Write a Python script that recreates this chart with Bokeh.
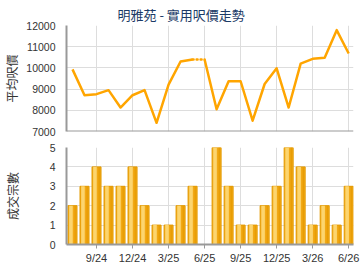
from bokeh.plotting import figure
from bokeh.layouts import column
from bokeh.models import Range1d, FixedTicker, Span, ColumnDataSource
from bokeh.embed import file_html
from bokeh.resources import INLINE

# ---- data ----
months = list(range(24))  # 7/24 .. 6/26
prices = [9930, 8710, 8760, 8950, 8130, 8710, 8950, 7410, 9210, 10300, 10400, 10400,
          8050, 9370, 9370, 7510, 9240, 9980, 8130, 10200, 10430, 10480, 11780, 10680]
counts = [2, 3, 4, 3, 3, 4, 2, 1, 1, 2, 3, 0, 5, 3, 1, 1, 2, 3, 5, 4, 1, 2, 1, 3]
gap_index = 11  # no transaction; price carried (dotted)
tick_pos = [2, 5, 8, 11, 14, 17, 20, 23]
tick_labels = ["9/24", "12/24", "3/25", "6/25", "9/25", "12/25", "3/26", "6/26"]
price_ticks = [7000, 8000, 9000, 10000, 11000, 12000]
count_ticks = [0, 1, 2, 3, 4, 5]
title_text = "明雅苑 - 實用呎價走勢"
ylabel_top = "平均呎價"
ylabel_bottom = "成交宗數"

CJK = "Noto Sans CJK TC"
NUM = "Liberation Sans"
GRID = "#dddddd"
AXIS = "#999999"

x_rng = Range1d(-0.5, 23.4)


def style_y(ax, label, label_standoff):
    ax.axis_label = label
    ax.axis_label_text_font = CJK
    ax.axis_label_text_font_size = "12px"
    ax.axis_label_text_font_style = "normal"
    ax.axis_label_text_color = "#333333"
    ax.axis_label_standoff = label_standoff
    ax.major_label_text_font = NUM
    ax.major_label_text_font_size = "10.5px"
    ax.major_label_text_color = "#333333"
    ax.major_tick_line_color = None
    ax.major_tick_out = 0
    ax.major_tick_in = 0
    ax.minor_tick_line_color = None
    ax.major_label_standoff = 11
    ax.axis_line_color = AXIS
    ax.axis_line_width = 2


# ---- top: price line ----
p1 = figure(width=360, height=140, output_backend="svg", toolbar_location=None,
            x_range=x_rng, y_range=Range1d(7000, 12000),
            min_border_left=66, min_border_right=7, min_border_top=25, min_border_bottom=9)
p1.outline_line_color = None
p1.title.text = title_text
p1.title.align = "left"
p1.title.offset = 51
p1.title.text_font = CJK
p1.title.text_font_size = "13px"
p1.title.text_font_style = "normal"
p1.title.text_color = "#1b3a66"
p1.title.standoff = 3
p1.xaxis.visible = False
p1.xgrid.ticker = FixedTicker(ticks=tick_pos)
p1.xgrid.grid_line_color = GRID
p1.ygrid.grid_line_color = GRID
yax = p1.yaxis[0]
yax.ticker = FixedTicker(ticks=price_ticks)
style_y(yax, ylabel_top, 3)
p1.add_layout(Span(location=price_ticks[0], dimension="width", line_color=AXIS, line_width=2))

solid_a = ColumnDataSource(dict(x=months[:gap_index], y=prices[:gap_index]))
solid_b = ColumnDataSource(dict(x=months[gap_index:], y=prices[gap_index:]))
dotted = ColumnDataSource(dict(x=months[gap_index - 1:gap_index + 1], y=prices[gap_index - 1:gap_index + 1]))
for src in (solid_a, solid_b):
    p1.line("x", "y", source=src, line_color="#ffa500", line_width=2.5, line_join="round")
p1.line("x", "y", source=dotted, line_color="#ffa500", line_width=2.5, line_dash="1 3", line_cap="round")

# ---- bottom: transaction count bars ----
p2 = figure(width=360, height=130, output_backend="svg", toolbar_location=None,
            x_range=x_rng, y_range=Range1d(0, 5),
            min_border_left=66, min_border_right=7, min_border_top=7, min_border_bottom=26)
p2.outline_line_color = None
p2.xgrid.grid_line_color = GRID
p2.ygrid.grid_line_color = GRID
xax = p2.xaxis[0]
xax.ticker = FixedTicker(ticks=tick_pos)
xax.major_label_overrides = {t: l for t, l in zip(tick_pos, tick_labels)}
xax.major_label_text_font = NUM
xax.major_label_text_font_size = "11px"
xax.major_label_text_color = "#333333"
xax.major_tick_line_color = AXIS
xax.major_tick_out = 4
xax.major_tick_in = 0
xax.minor_tick_line_color = None
xax.major_label_standoff = 3
xax.axis_line_color = AXIS
xax.axis_line_width = 2
yax2 = p2.yaxis[0]
yax2.ticker = FixedTicker(ticks=count_ticks)
style_y(yax2, ylabel_bottom, 26)

bars = ColumnDataSource(dict(
    x=months, top=counts,
    xl=[m - 0.13 for m in months],
    xr=[m + 0.22 for m in months],
))
p2.vbar(x="x", top="top", width=0.75, source=bars, fill_color="#f2a916", line_color="#e39a00", line_width=1)
p2.vbar(x="xl", top="top", width=0.3, source=bars, fill_color="#fcd56f", line_color=None)
p2.vbar(x="xr", top="top", width=0.12, source=bars, fill_color="#e89d05", line_color=None)

layout = column(p1, p2, spacing=0)
open("out.html", "w").write(file_html(layout, INLINE))
